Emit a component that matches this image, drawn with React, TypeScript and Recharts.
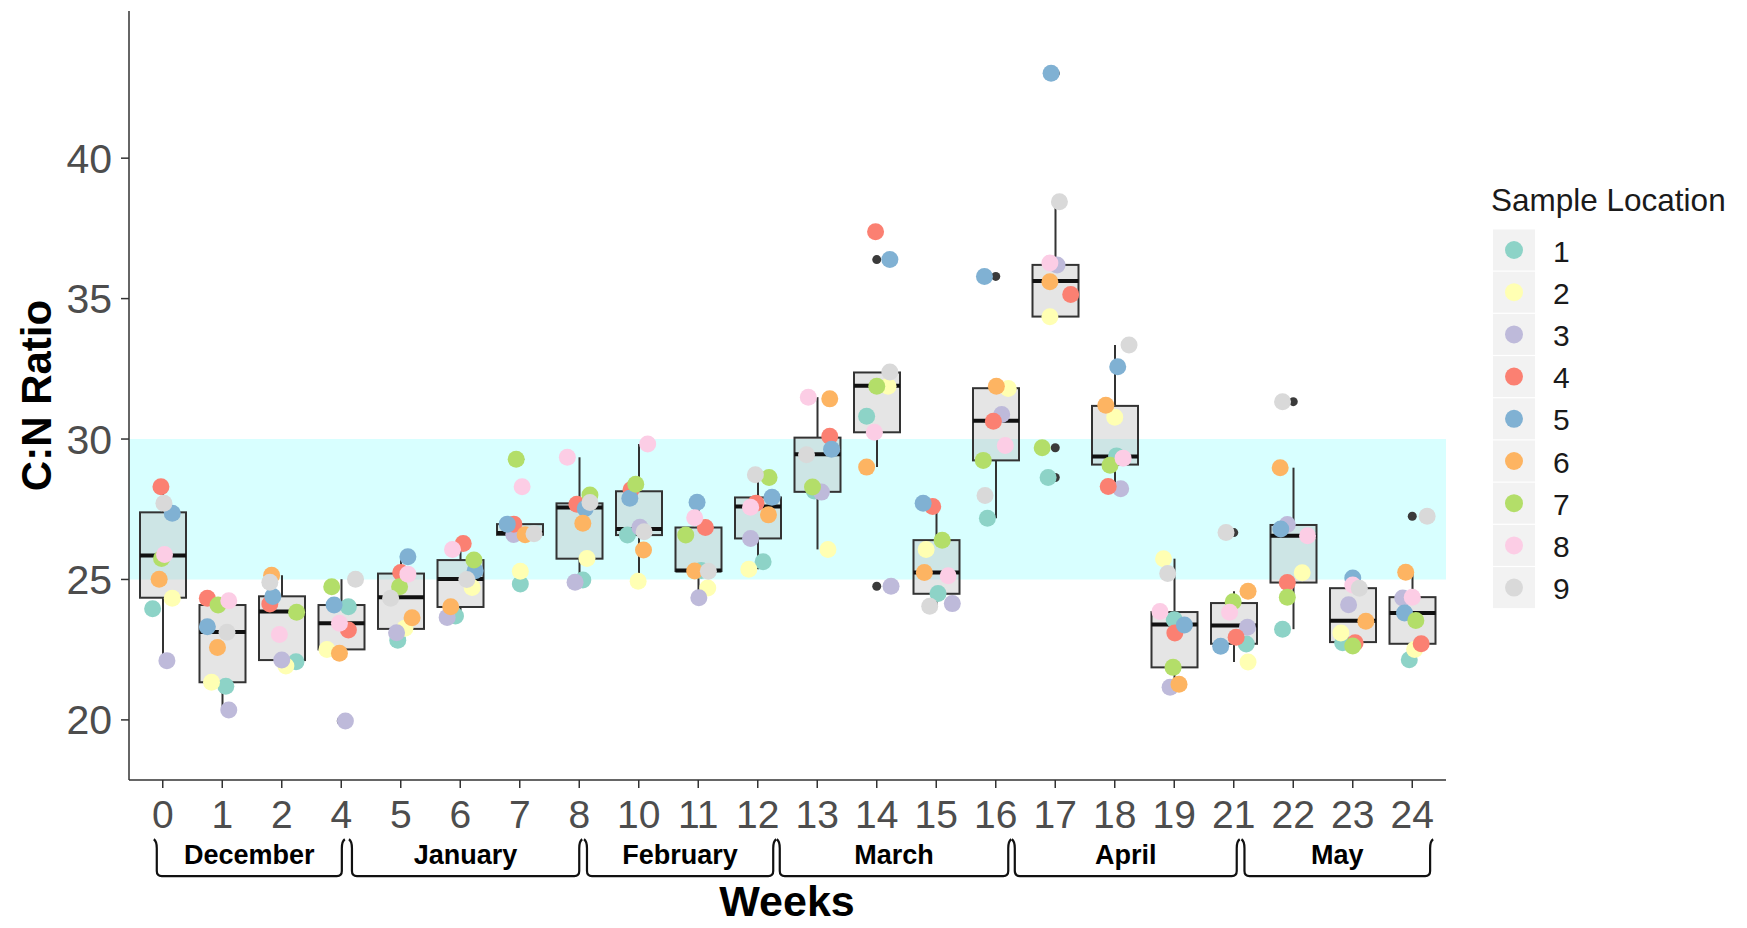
import React from "react";
import {
  ComposedChart,
  Bar,
  Scatter,
  XAxis,
  YAxis,
  ReferenceArea,
  ReferenceLine,
} from "recharts";

// weeks on the x axis
const WEEKS = ["0", "1", "2", "4", "5", "6", "7", "8", "10", "11", "12", "13", "14", "15", "16", "17", "18", "19", "21", "22", "23", "24"];

// boxplot statistics per week
const Q1 = [24.35, 21.34, 22.13, 22.51, 23.24, 24.02, 26.59, 25.74, 26.58, 25.3, 26.46, 28.12, 30.24, 24.49, 29.24, 34.36, 29.09, 21.87, 22.71, 24.89, 22.77, 22.71];
const MED = [25.85, 23.13, 23.86, 23.44, 24.37, 25.02, 26.65, 27.56, 26.8, 25.32, 27.6, 29.46, 31.9, 25.25, 30.65, 35.63, 29.38, 23.4, 23.36, 26.56, 23.53, 23.81];
const Q3 = [27.39, 24.09, 24.4, 24.09, 25.21, 25.69, 26.97, 27.71, 28.14, 26.85, 27.92, 30.05, 32.37, 26.4, 31.81, 36.2, 31.18, 23.84, 24.16, 26.94, 24.69, 24.37];
const LO = [22.11, 20.35, 21.92, 22.37, 22.84, 23.65, 26.59, 24.9, 24.94, 24.35, 25.36, 26.07, 29.0, 24.05, 27.18, 34.35, 28.23, 21.16, 22.06, 23.23, 22.63, 22.14];
const HI = [28.3, 24.33, 25.15, 25.01, 25.81, 26.28, 26.97, 29.35, 29.82, 27.75, 28.73, 31.49, 32.39, 27.71, 31.88, 38.45, 33.35, 25.74, 24.58, 28.98, 25.05, 25.26];

// sample location values per week
const LOC1 = [23.96, 21.2, 22.07, 24.03, 22.84, 23.7, 24.84, 24.98, 26.58, 25.32, 25.63, 28.15, 30.81, 24.5, 27.18, 28.63, 29.4, 23.57, 22.7, 23.23, 22.75, 22.14];
const LOC2 = [24.33, 21.34, 21.92, 22.51, 23.26, 24.71, 25.29, 25.75, 24.94, 24.7, 25.36, 26.07, 31.88, 26.07, 31.8, 34.35, 30.78, 25.74, 22.06, 25.24, 23.09, 22.51];
const LOC3 = [22.11, 20.35, 22.13, 19.96, 23.1, 23.65, 26.6, 24.9, 26.86, 24.35, 26.46, 28.11, 24.76, 24.14, 30.87, 36.2, 28.23, 21.16, 23.3, 26.96, 24.1, 24.34];
const LOC4 = [28.3, 24.33, 24.13, 23.2, 25.25, 26.28, 26.97, 27.68, 28.19, 26.85, 27.71, 30.1, 37.38, 27.6, 30.63, 35.15, 28.31, 23.09, 22.94, 24.89, 22.75, 22.71];
const LOC5 = [27.36, 23.32, 24.39, 24.09, 25.81, 25.31, 26.97, 27.53, 27.89, 27.75, 27.93, 29.64, 36.39, 27.71, 35.79, 43.02, 32.57, 23.38, 22.62, 26.8, 25.05, 23.81];
const LOC6 = [25.01, 22.58, 25.15, 22.37, 23.64, 24.03, 26.59, 27.0, 26.05, 25.3, 27.3, 31.43, 29.0, 25.25, 31.88, 35.6, 31.2, 21.27, 24.58, 28.98, 23.51, 25.26];
const LOC7 = [25.75, 24.09, 23.83, 24.74, 24.74, 25.69, 29.28, 28.01, 28.39, 26.58, 28.63, 28.29, 31.88, 26.4, 29.24, 29.69, 29.07, 21.87, 24.21, 24.37, 22.63, 23.54];
const LOC8 = [25.89, 24.24, 23.04, 23.44, 25.19, 26.07, 28.3, 29.35, 29.82, 27.2, 27.57, 31.49, 30.24, 25.13, 29.77, 36.27, 29.32, 23.86, 23.83, 26.56, 24.8, 24.37];
const LOC9 = [27.71, 23.12, 24.9, 25.01, 24.33, 25.0, 26.63, 27.74, 26.7, 25.29, 28.73, 29.44, 32.39, 24.05, 27.99, 38.45, 33.35, 25.21, 26.67, 31.33, 24.69, 27.25];

// horizontal jitter of each point (in week units)
const JIT1 = [-0.17, 0.06, 0.24, 0.12, -0.05, -0.08, 0.01, 0.06, -0.19, 0.05, 0.09, -0.05, -0.17, 0.03, -0.14, -0.12, 0.03, 0.0, 0.21, -0.18, -0.17, -0.05];
const JIT2 = [0.16, -0.18, 0.07, -0.24, 0.07, 0.2, 0.01, 0.13, -0.01, 0.16, -0.15, 0.18, 0.19, -0.17, 0.21, -0.09, 0.0, -0.18, 0.24, 0.15, -0.2, 0.04];
const JIT3 = [0.07, 0.11, 0.0, 0.07, -0.07, -0.22, -0.1, -0.07, 0.02, 0.01, -0.12, 0.07, 0.24, 0.27, 0.1, 0.03, 0.1, -0.07, 0.23, -0.1, -0.07, -0.16];
const JIT4 = [-0.03, -0.25, -0.2, 0.12, 0.0, 0.05, -0.1, -0.04, -0.13, 0.12, -0.03, 0.21, -0.02, -0.06, -0.04, 0.26, -0.11, 0.01, 0.04, -0.1, 0.04, 0.15];
const JIT5 = [0.16, -0.25, -0.15, -0.12, 0.12, 0.25, -0.21, 0.1, -0.15, -0.02, 0.24, 0.24, 0.22, -0.22, -0.19, -0.07, 0.05, 0.17, -0.22, -0.21, 0.0, -0.13];
const JIT6 = [-0.06, -0.08, -0.17, -0.03, 0.19, -0.16, 0.09, 0.06, 0.08, -0.06, 0.18, 0.21, -0.17, -0.2, 0.01, -0.09, -0.15, 0.08, 0.24, -0.22, 0.22, -0.11];
const JIT7 = [-0.02, -0.07, 0.25, -0.16, -0.02, 0.23, -0.06, 0.18, -0.05, -0.21, 0.19, -0.08, 0.0, 0.1, -0.21, -0.22, -0.08, -0.02, -0.01, -0.1, 0.0, 0.06];
const JIT8 = [0.03, 0.11, -0.04, -0.03, 0.12, -0.13, 0.04, -0.2, 0.15, -0.06, -0.12, -0.15, -0.04, 0.2, 0.16, -0.09, 0.14, -0.24, -0.07, 0.24, 0.0, 0.0];
const JIT9 = [0.02, 0.08, -0.2, 0.24, -0.17, 0.11, 0.24, 0.18, 0.09, 0.17, -0.04, -0.18, 0.22, -0.11, -0.18, 0.07, 0.24, -0.11, -0.13, -0.18, 0.11, 0.25];

const LOCATIONS = ["1", "2", "3", "4", "5", "6", "7", "8", "9"];
const COLORS = ["#8DD3C7", "#FFFFB3", "#BEBADA", "#FB8072", "#80B1D3", "#FDB462", "#B3DE69", "#FCCDE5", "#D9D9D9"];
const Y_TICKS = [20, 25, 30, 35, 40];

// month brackets under the axis (in week-index units)
const MONTHS = ["December", "January", "February", "March", "April", "May"];
const MONTH_START = [-0.1, 3.18, 7.13, 10.37, 14.32, 18.18];
const MONTH_END = [3.01, 7.0, 10.26, 14.21, 18.05, 21.3];
const BRACKET_TOP = 15.75;
const BRACKET_BOTTOM = 14.44;

const FONT = '"Liberation Sans", Arial, Helvetica, sans-serif';

const LOC_VALUES = [LOC1, LOC2, LOC3, LOC4, LOC5, LOC6, LOC7, LOC8, LOC9];
const LOC_JITTER = [JIT1, JIT2, JIT3, JIT4, JIT5, JIT6, JIT7, JIT8, JIT9];

const boxRows = WEEKS.map((w, i) => ({
  week: w,
  box: [Q1[i], Q3[i]],
  q1: Q1[i],
  med: MED[i],
  q3: Q3[i],
  lo: LO[i],
  hi: HI[i],
}));

const pointSeries = LOCATIONS.map((_, k) =>
  LOC_VALUES[k].map((v, i) => ({ x: i + LOC_JITTER[k][i], y: v }))
);

// outliers = values beyond the whiskers, drawn at the box centre
const outliers = WEEKS.flatMap((_, i) =>
  LOC_VALUES.map((vals) => vals[i])
    .filter((v) => v < LO[i] - 1e-6 || v > HI[i] + 1e-6)
    .map((v) => ({ x: i, y: v }))
);

const BoxShape = (props: any) => {
  const { x, y, width, height, payload } = props;
  if (height == null || !payload) return null;
  const { q1, med, q3, lo, hi } = payload;
  const ppu = height / (q3 - q1);
  const cx = x + width / 2;
  const yTop = y;
  const yBot = y + height;
  const yHi = yTop - (hi - q3) * ppu;
  const yLo = yBot + (q1 - lo) * ppu;
  const yMed = yTop + (q3 - med) * ppu;
  return (
    <g>
      <line x1={cx} x2={cx} y1={yHi} y2={yTop} stroke="#333" strokeWidth={2} />
      <line x1={cx} x2={cx} y1={yBot} y2={yLo} stroke="#333" strokeWidth={2} />
      <rect x={x} y={yTop} width={width} height={height} fill="#BEBEBE" fillOpacity={0.4} stroke="#333" strokeWidth={2} />
      <line x1={x} x2={x + width} y1={yMed} y2={yMed} stroke="#111" strokeWidth={4} />
    </g>
  );
};

const bracketShape = (label: string) => (p: any) => {
  const { x1, y1, x2, y2 } = p;
  const r = 5;
  const f = 3;
  const h = 9;
  const d = `M${x1 - f},${y1} Q${x1},${y1 + 2} ${x1},${y1 + h} L${x1},${y2 - r} Q${x1},${y2} ${x1 + r},${y2} L${x2 - r},${y2} Q${x2},${y2} ${x2},${y2 - r} L${x2},${y1 + h} Q${x2},${y1 + 2} ${x2 + f},${y1}`;
  return (
    <g>
      <path d={d} fill="none" stroke="#111" strokeWidth={2.2} />
      <text x={(x1 + x2) / 2} y={y2 - 12} textAnchor="middle" fontFamily={FONT} fontWeight="bold" fontSize={27} fill="#000">
        {label}
      </text>
    </g>
  );
};

const Legend = () => (
  <g fontFamily={FONT}>
    <text x={1491} y={211} fontSize={31.5} fill="#1a1a1a">Sample Location</text>
    {LOCATIONS.map((name, k) => {
      const top = 229.5 + k * 42.2;
      return (
        <g key={name}>
          <rect x={1493} y={top} width={42} height={41} fill="#F2F2F2" />
          <circle cx={1514} cy={top + 20.5} r={9} fill={COLORS[k]} />
          <text x={1553} y={top + 32} fontSize={30} fill="#1a1a1a">{name}</text>
        </g>
      );
    })}
  </g>
);

export default function App() {
  return (
    <div style={{ position: "absolute", left: 0, top: 0, width: 1747, height: 928, background: "#fff" }}>
      <ComposedChart width={1747} height={928} data={boxRows} margin={{ top: 11, right: 301, bottom: 88, left: 0 }}>
        <XAxis
          xAxisId="cat"
          dataKey="week"
          type="category"
          interval={0}
          padding={{ left: 4, right: 4 }}
          height={60}
          tickSize={8}
          tickMargin={12}
          tick={{ fill: "#4D4D4D", fontSize: 39, fontFamily: FONT }}
          axisLine={{ stroke: "#333", strokeWidth: 1.5 }}
          tickLine={{ stroke: "#333", strokeWidth: 1.5 }}
        />
        <XAxis xAxisId="num" dataKey="x" type="number" domain={[-0.567, 21.567]} allowDataOverflow hide />
        <YAxis
          type="number"
          domain={[17.86, 45.24]}
          ticks={Y_TICKS}
          allowDataOverflow
          width={129}
          tickSize={8}
          tickMargin={9}
          tick={{ fill: "#4D4D4D", fontSize: 41, fontFamily: FONT }}
          axisLine={{ stroke: "#333", strokeWidth: 1.5 }}
          tickLine={{ stroke: "#333", strokeWidth: 1.5 }}
        />
        <ReferenceArea xAxisId="num" y1={25} y2={30} fill="#D8FFFF" fillOpacity={1} stroke="none" />
        <Bar xAxisId="cat" dataKey="box" barSize={46} shape={BoxShape} isAnimationActive={false} />
        <Scatter
          xAxisId="num"
          data={outliers}
          dataKey="y"
          isAnimationActive={false}
          shape={(p: any) => <circle cx={p.cx} cy={p.cy} r={4.5} fill="#3a3a3a" />}
        />
        {LOCATIONS.map((name, k) => (
          <Scatter
            key={name}
            name={name}
            xAxisId="num"
            data={pointSeries[k]}
            dataKey="y"
            isAnimationActive={false}
            shape={(p: any) => <circle cx={p.cx} cy={p.cy} r={8.5} fill={COLORS[k]} />}
          />
        ))}
        {MONTHS.map((m, k) => (
          <ReferenceLine
            key={m}
            xAxisId="num"
            ifOverflow="visible"
            segment={[
              { x: MONTH_START[k], y: BRACKET_TOP },
              { x: MONTH_END[k], y: BRACKET_BOTTOM },
            ]}
            shape={bracketShape(m)}
          />
        ))}
      </ComposedChart>
      <svg width={1747} height={928} style={{ position: "absolute", left: 0, top: 0, pointerEvents: "none" }}>
        <text transform="translate(51,395.5) rotate(-90)" textAnchor="middle" fontFamily={FONT} fontWeight="bold" fontSize={42} fill="#000">
          C:N Ratio
        </text>
        <text x={787} y={916} textAnchor="middle" fontFamily={FONT} fontWeight="bold" fontSize={43} fill="#000">
          Weeks
        </text>
        <Legend />
      </svg>
    </div>
  );
}
